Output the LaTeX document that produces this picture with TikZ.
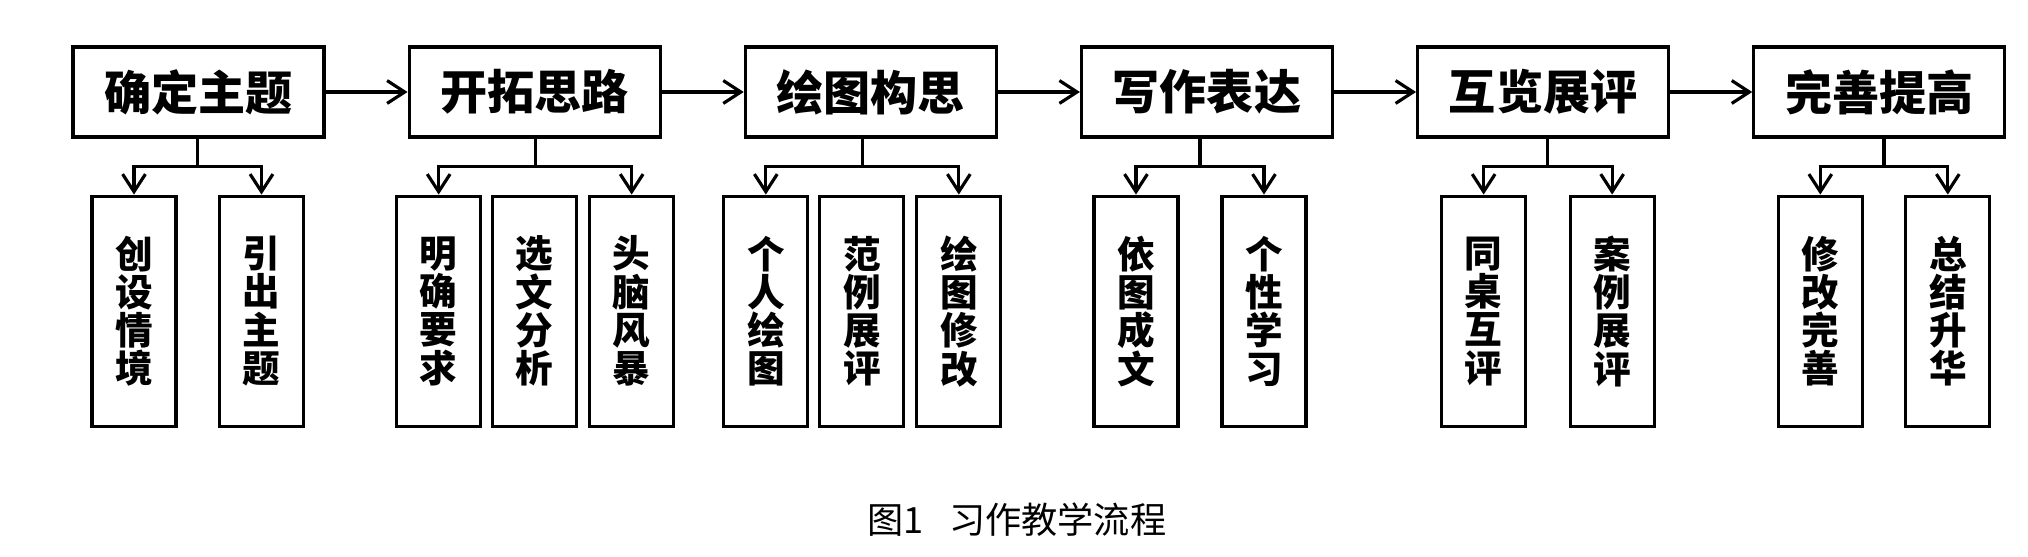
\documentclass[tikz,border=0pt]{standalone}
\usepackage{fontspec}
\setmainfont{Noto Sans CJK SC}
\usepackage{tikz}
\usetikzlibrary{arrows.meta, calc, positioning}

\begin{document}
\begin{tikzpicture}[
    node distance=0.82cm,
    mainbox/.style={rectangle, draw, line width=0.9pt, minimum width=2.51cm, minimum height=0.90cm, inner sep=0pt, font=\bfseries\fontsize{13.4pt}{13.4pt}\selectfont},
    subbox/.style={rectangle, draw, line width=0.9pt, minimum width=0.84cm, minimum height=2.30cm, inner sep=0pt, align=center, font=\bfseries\fontsize{10.7pt}{10.9pt}\selectfont},
    line/.style={draw, line width=0.9pt, -{Straight Barb[length=5pt, width=6.5pt]}},
    stem/.style={draw, line width=0.9pt}
]
    \useasboundingbox (0,0) rectangle (20.28,5.57);

    % Nodes
    % Main steps, left to right
    \node [mainbox] (m1) at (1.985,4.65) {确定主题};
    \node [mainbox, right=of m1] (m2) {开拓思路};
    \node [mainbox, right=of m2] (m3) {绘图构思};
    \node [mainbox, right=of m3] (m4) {写作表达};
    \node [mainbox, right=of m4] (m5) {互览展评};
    \node [mainbox, right=of m5] (m6) {完善提高};

    % Sub steps under each main step
    \node [subbox, below=0.56cm of m1, xshift=-0.645cm] (s11) {创\\设\\情\\境};
    \node [subbox, below=0.56cm of m1, xshift=0.63cm] (s12) {引\\出\\主\\题};

    \node [subbox, below=0.56cm of m2, xshift=-0.96cm] (s21) {明\\确\\要\\求};
    \node [subbox, below=0.56cm of m2] (s22) {选\\文\\分\\析};
    \node [subbox, below=0.56cm of m2, xshift=0.97cm] (s23) {头\\脑\\风\\暴};

    \node [subbox, below=0.56cm of m3, xshift=-1.05cm] (s31) {个\\人\\绘\\图};
    \node [subbox, below=0.56cm of m3, xshift=-0.09cm] (s32) {范\\例\\展\\评};
    \node [subbox, below=0.56cm of m3, xshift=0.88cm] (s33) {绘\\图\\修\\改};

    \node [subbox, below=0.56cm of m4, xshift=-0.71cm] (s41) {依\\图\\成\\文};
    \node [subbox, below=0.56cm of m4, xshift=0.57cm] (s42) {个\\性\\学\\习};

    \node [subbox, below=0.56cm of m5, xshift=-0.595cm] (s51) {同\\桌\\互\\评};
    \node [subbox, below=0.56cm of m5, xshift=0.69cm] (s52) {案\\例\\展\\评};

    \node [subbox, below=0.56cm of m6, xshift=-0.59cm] (s61) {修\\改\\完\\善};
    \node [subbox, below=0.56cm of m6, xshift=0.685cm] (s62) {总\\结\\升\\华};

    % Caption
    \node [font=\fontsize{10.3pt}{10.3pt}\selectfont] (cap) at (10.17,0.37) {图1\hspace{0.7em}习作教学流程};

    % Connections
    % Main flow
    \draw [line] (m1) -- (m2);
    \draw [line] (m2) -- (m3);
    \draw [line] (m3) -- (m4);
    \draw [line] (m4) -- (m5);
    \draw [line] (m5) -- (m6);

    % Branches down to the sub steps
    \foreach \m/\a/\b in {1/s11/s12, 2/s21/s23, 3/s31/s33, 4/s41/s42, 5/s51/s52, 6/s61/s62} {
        \coordinate (j\m) at ($(\a.north)!0.5!(\b.north) + (0,0.28)$);
        \draw [stem] (j\m |- m\m.south) -- (j\m);
        \draw [line] (j\m) -| (\a.north);
        \draw [line] (j\m) -| (\b.north);
    }

\end{tikzpicture}
\end{document}
